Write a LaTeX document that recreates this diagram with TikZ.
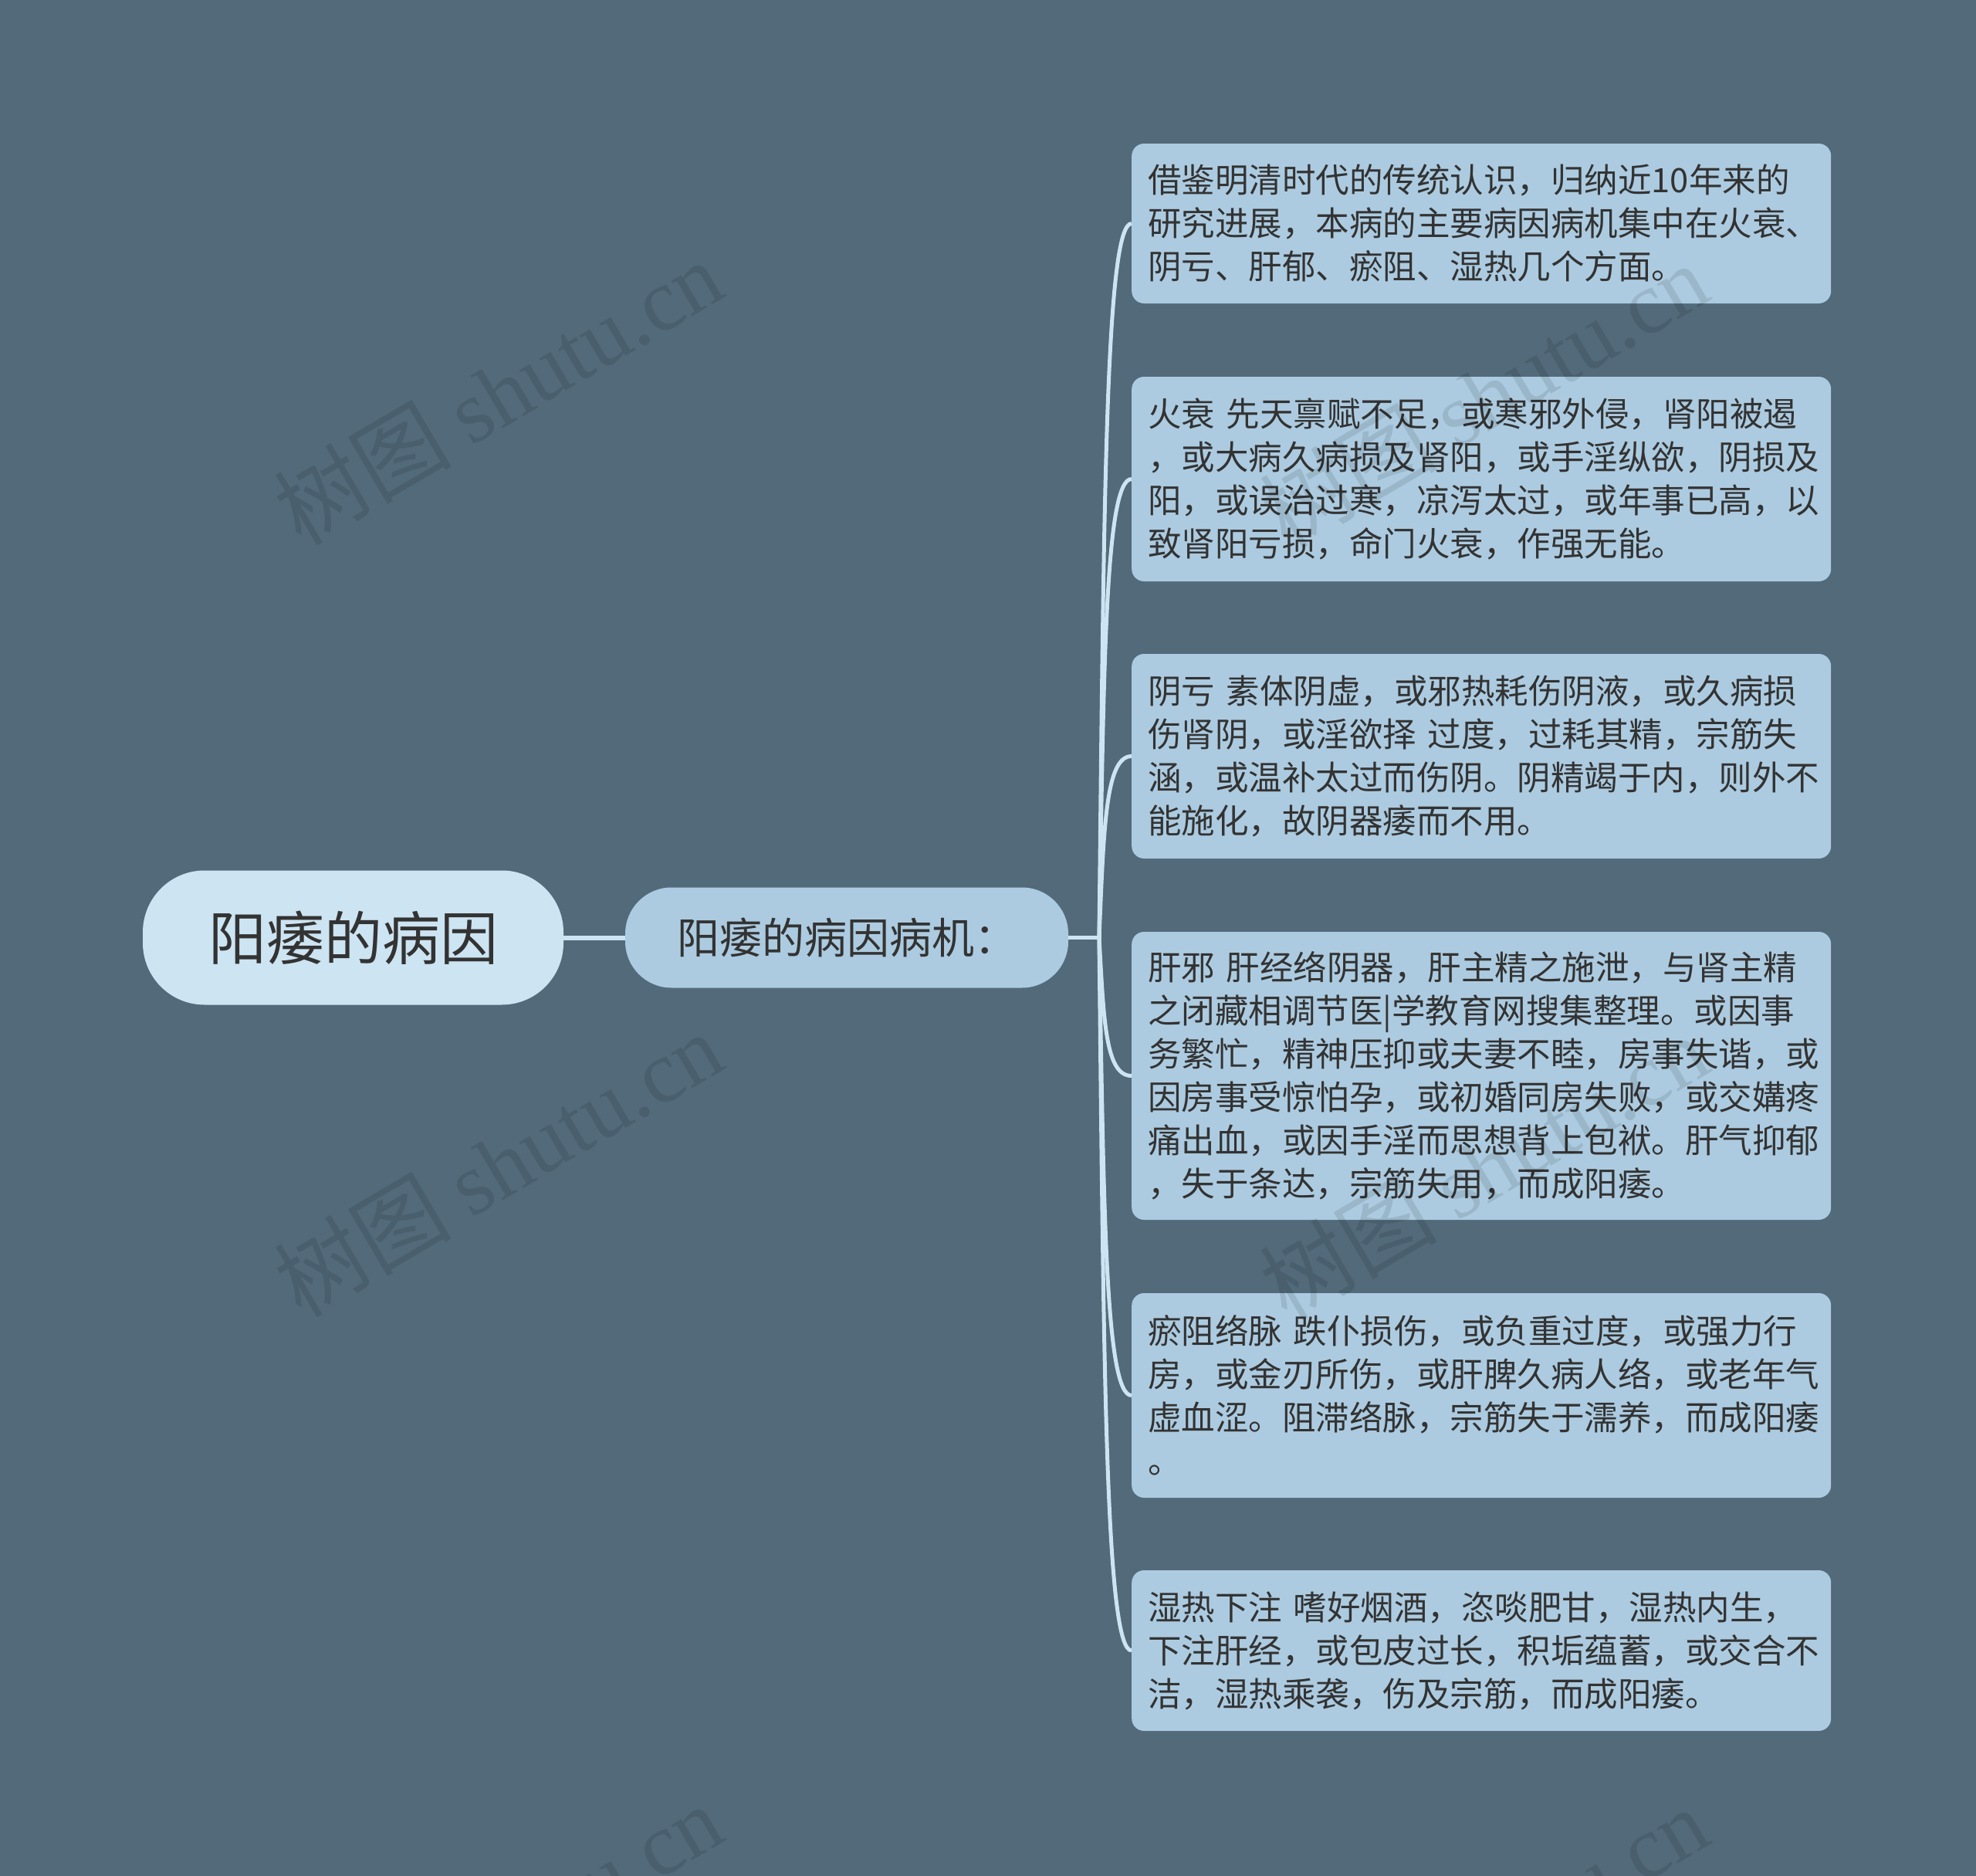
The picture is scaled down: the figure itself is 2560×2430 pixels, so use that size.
\documentclass[tikz,border=0pt]{standalone}
\usepackage{fontspec}
\setmainfont{Noto Sans CJK SC}
\newfontfamily\wmfont{Liberation Serif}
\definecolor{bgc}{RGB}{82,106,122}
\definecolor{boxc}{RGB}{172,203,224}
\definecolor{rootc}{RGB}{205,228,242}
\definecolor{linkc}{RGB}{205,228,242}
\definecolor{txtc}{RGB}{51,51,51}
\begin{document}
\begin{tikzpicture}[x=1pt,y=-1pt,
	link/.style={draw=linkc,line width=5pt},
	leaf/.style={fill=boxc,rounded corners=16pt,anchor=west,text width=864pt,inner xsep=21pt,inner ysep=0pt,align=left,text=txtc,font=\fontsize{43.5pt}{56pt}\selectfont},
	wm/.style={text=black,text opacity=0.1,rotate=30.5,font=\fontsize{115pt}{115pt}\selectfont}]
	\fill[bgc] (0,0) rectangle (2560,2430);
	\clip (0,0) rectangle (2560,2430);
	%ROOT
	\node[fill=rootc,rounded corners=80pt,minimum width=545pt,minimum height=174pt,text=txtc,font=\fontsize{75pt}{75pt}\selectfont] (root) at (457.5,1214.5) {阳痿的病因};
	\node[fill=boxc,rounded corners=60pt,minimum width=574pt,minimum height=130pt,text=txtc,font=\fontsize{55pt}{55pt}\selectfont] (mech) at (1097,1214.5) {阳痿的病因病机：};
	%LEAVES
	\node[leaf,minimum height=207pt] (c1) at (1466,289.5) {借鉴明清时代的传统认识，归纳近10年来的\\研究进展，本病的主要病因病机集中在火衰、\\阴亏、肝郁、瘀阻、湿热几个方面。};
	\node[leaf,minimum height=265pt] (c2) at (1466,620.5) {火衰 先天禀赋不足，或寒邪外侵，肾阳被遏\\，或大病久病损及肾阳，或手淫纵欲，阴损及\\阳，或误治过寒，凉泻太过，或年事已高，以\\致肾阳亏损，命门火衰，作强无能。};
	\node[leaf,minimum height=265pt] (c3) at (1466,979.5) {阴亏 素体阴虚，或邪热耗伤阴液，或久病损\\伤肾阴，或淫欲择 过度，过耗其精，宗筋失\\涵，或温补太过而伤阴。阴精竭于内，则外不\\能施化，故阴器痿而不用。};
	\node[leaf,minimum height=373pt] (c4) at (1466,1393.5) {肝邪 肝经络阴器，肝主精之施泄，与肾主精\\之闭藏相调节医|学教育网搜集整理。或因事\\务繁忙，精神压抑或夫妻不睦，房事失谐，或\\因房事受惊怕孕，或初婚同房失败，或交媾疼\\痛出血，或因手淫而思想背上包袱。肝气抑郁\\，失于条达，宗筋失用，而成阳痿。};
	\node[leaf,minimum height=265pt] (c5) at (1466,1807.5) {瘀阻络脉 跌仆损伤，或负重过度，或强力行\\房，或金刃所伤，或肝脾久病人络，或老年气\\虚血涩。阻滞络脉，宗筋失于濡养，而成阳痿\\。};
	\node[leaf,minimum height=208pt] (c6) at (1466,2138) {湿热下注 嗜好烟酒，恣啖肥甘，湿热内生，\\下注肝经，或包皮过长，积垢蕴蓄，或交合不\\洁，湿热乘袭，伤及宗筋，而成阳痿。};
	%LINKS
	\coordinate (hub) at (1424,1214.5);
	\draw[link,line width=6pt] (root.east) -- (mech.west);
	\draw[link] (mech.east) -- (hub);
	\foreach \n/\yy in {c1/289.5,c2/620.5,c3/979.5,c4/1393.5,c5/1807.5,c6/2138}
		\draw[link] (hub) .. controls (1430,{1214.5-0.6*(1214.5-\yy)}) and (1432,\yy) .. (\n.west);
	%watermark
	\foreach \i/\xx/\yy in {1/645/508,2/645/1508,3/645/2508,4/1922/512,5/1922/1512,6/1922/2512}
		\node[wm] (wm\i) at (\xx,\yy) {树图 {\wmfont shutu.cn}};
\end{tikzpicture}
\end{document}
